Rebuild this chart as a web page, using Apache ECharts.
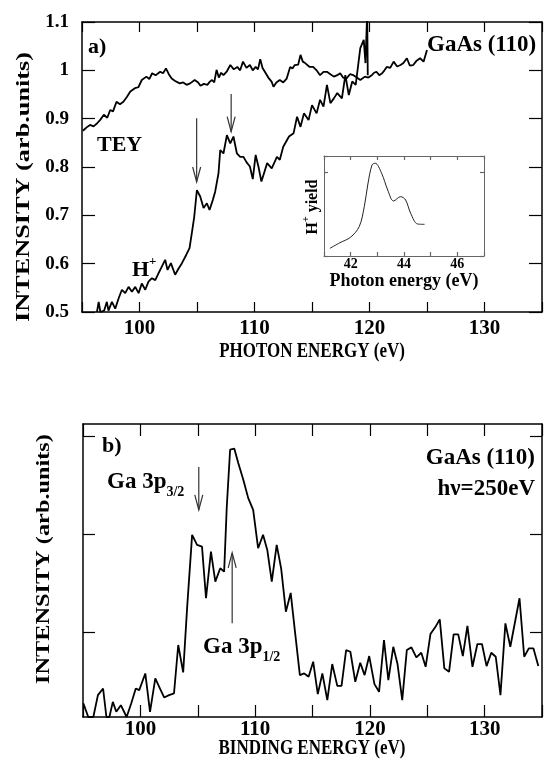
<!DOCTYPE html>
<html>
<head>
    <meta charset="utf-8">
    <title>GaAs (110)</title>
    <script src="https://cdn.jsdelivr.net/npm/echarts@6/dist/echarts.min.js"></script>
    <style>
        html, body { margin: 0; padding: 0; background: #fff; }
    </style>
</head>
<body>
    <div id="main" style="width: 545px;height: 770px;"></div>
    <script type="text/javascript">
// panel a) : photon energy (eV), intensity
var teyData = [
    [95.08,0.875],[95.4,0.882],[95.7,0.887],[96.0,0.884],[96.3,0.890],[96.6,0.898],[96.9,0.908],[97.2,0.902],
    [97.45,0.918],[97.7,0.915],[98.0,0.935],[98.3,0.930],[98.6,0.935],[98.9,0.945],[99.2,0.956],[99.6,0.963],
    [99.9,0.965],[100.2,0.980],[100.6,0.987],[100.85,0.982],[101.1,0.994],[101.4,0.990],[101.8,0.997],[102.05,0.994],
    [102.3,1.004],[102.55,0.992],[102.8,0.983],[103.1,0.978],[103.5,0.973],[103.8,0.975],[104.1,0.970],[104.4,0.973],
    [104.8,0.980],[105.1,0.975],[105.3,0.968],[105.6,0.972],[105.9,0.970],[106.1,0.976],[106.3,0.980],[106.5,0.975],
    [106.7,1.001],[106.9,0.985],[107.1,0.995],[107.3,0.990],[107.6,0.998],[107.9,1.011],[108.2,1.002],[108.5,1.007],
    [108.75,1.000],[109.0,1.018],[109.3,1.005],[109.6,1.011],[109.85,1.000],[110.1,1.007],[110.3,1.002],[110.5,1.023],
    [110.7,1.005],[110.9,0.997],[111.2,0.985],[111.5,0.976],[111.65,0.966],[111.9,0.975],[112.2,0.980],[112.5,0.975],
    [112.8,0.983],[113.1,1.007],[113.3,1.004],[113.5,1.011],[113.8,1.012],[114.0,1.032],[114.2,1.018],[114.4,1.015],
    [114.8,1.007],[115.1,1.007],[115.4,1.000],[115.7,0.990],[116.0,0.997],[116.3,0.997],[116.6,0.992],[116.9,0.987],
    [117.2,0.990],[117.45,0.994],[117.7,0.985],[118.0,0.983],[118.3,0.992],[118.6,0.990],[118.9,0.985],[119.2,0.980],
    [119.6,0.987],[119.9,0.985],[120.2,0.990],[120.4,0.995],[120.6,0.997],[120.85,0.990],[121.1,0.994],[121.3,1.000],
    [121.5,1.007],[121.8,1.005],[122.1,1.018],[122.4,1.008],[122.7,1.011],[122.95,1.015],[123.25,1.025],[123.5,1.010],
    [123.8,1.011],[124.1,1.020],[124.4,1.025],[124.7,1.018],[125.0,1.042]
];
var hplusData = [
    [96.3,0.500],[96.45,0.521],[96.6,0.500],[96.93,0.503],[97.16,0.521],[97.3,0.503],[97.6,0.521],[97.89,0.507],
    [98.18,0.528],[98.47,0.546],[98.76,0.539],[99.05,0.552],[99.34,0.542],[99.63,0.552],[99.92,0.539],[100.2,0.559],
    [100.5,0.546],[100.78,0.563],[101.08,0.570],[101.37,0.566],[101.65,0.580],[101.94,0.594],[102.23,0.608],[102.44,0.587],
    [102.73,0.601],[103.1,0.577],[103.4,0.590],[103.69,0.601],[104.06,0.618],[104.35,0.632],[104.55,0.663],[104.76,0.697],
    [104.99,0.752],[105.28,0.739],[105.57,0.715],[105.86,0.725],[106.09,0.711],[106.38,0.732],[106.58,0.749],[106.87,0.787],
    [107.02,0.835],[107.3,0.828],[107.6,0.866],[107.89,0.849],[108.17,0.863],[108.47,0.828],[108.75,0.821],[109.04,0.821],
    [109.3,0.810],[109.6,0.801],[109.85,0.775],[110.1,0.825],[110.35,0.800],[110.6,0.770],[110.8,0.785],[111.1,0.808],
    [111.5,0.797],[111.95,0.821],[112.2,0.815],[112.5,0.842],[113.0,0.863],[113.4,0.870],[113.7,0.904],[114.0,0.883],
    [114.3,0.911],[114.7,0.897],[115.0,0.928],[115.4,0.911],[115.7,0.939],[116.0,0.925],[116.3,0.970],[116.6,0.932],
    [116.9,0.942],[117.2,0.953],[117.6,0.942],[117.9,0.990],[118.2,0.949],[118.5,0.977],[118.8,0.970],[119.2,1.046],
    [119.5,1.063],[119.65,1.015],[119.8,1.120],[119.85,0.990]
];
// inset: H+ yield vs photon energy (eV)
var insetData = [
    [41.22,0.092],[41.6,0.16],[41.99,0.224],[42.32,0.352],[42.51,0.592],[42.64,0.852],[42.8,1.092],[42.92,1.113],
    [43.16,0.993],[43.39,0.792],[43.61,0.66],[43.87,0.712],[44.06,0.672],[44.25,0.512],[44.51,0.384],[44.77,0.38]
];
// panel b) : binding energy (eV), intensity
var xpsData = [
    [95.03,0.27],[95.46,0.13],[95.9,0.13],[96.3,0.354],[96.75,0.422],[97.04,0.13],[97.3,0.13],[97.6,0.285],
    [97.9,0.183],[98.3,0.251],[98.8,0.13],[99.2,0.269],[99.6,0.422],[99.9,0.405],[100.43,0.576],[100.84,0.183],
    [101.3,0.525],[101.64,0.439],[102.07,0.33],[102.5,0.354],[102.93,0.371],[103.3,0.867],[103.73,0.587],[104.08,1.26],
    [104.51,1.995],[104.94,1.892],[105.37,1.875],[105.72,1.346],[106.15,1.824],[106.53,1.516],[106.96,1.653],[107.3,1.618],
    [107.53,2.285],[107.82,2.867],[108.19,2.877],[108.53,2.73],[108.97,2.559],[109.4,2.371],[109.83,2.251],[110.26,1.858],
    [110.69,1.995],[111.06,1.841],[111.45,1.516],[111.88,1.892],[112.27,1.65],[112.68,1.208],[113.1,1.40],[113.5,0.975],
    [113.9,0.559],[114.28,0.576],[114.66,0.542],[115.06,0.696],[115.46,0.364],[115.86,0.576],[116.29,0.303],[116.72,0.672],
    [117.16,0.449],[117.53,0.449],[117.93,0.815],[118.3,0.798],[118.73,0.49],[119.16,0.685],[119.54,0.559],[119.94,0.754],
    [120.4,0.467],[120.8,0.388],[121.23,0.918],[121.61,0.508],[122.04,0.849],[122.41,0.672],[122.82,0.303],[123.22,0.815],
    [123.62,0.843],[124.05,0.74],[124.48,0.788],[124.86,0.644],[125.28,0.979],[125.69,1.048],[126.09,1.13],[126.49,0.628],
    [126.9,0.593],[127.3,0.976],[127.7,0.976],[128.1,0.754],[128.5,1.062],[128.94,0.644],[129.37,0.877],[129.77,0.877],
    [130.17,0.651],[130.58,0.788],[130.97,0.747],[131.38,0.354],[131.81,1.089],[132.24,0.849],[133.04,1.346],[133.45,0.747],
    [133.85,0.833],[134.25,0.833],[134.68,0.651]
];
// arrows: [x, y from, y to (head)]
var arrowsA = [[104.97,0.901,0.769],[107.97,0.951,0.873]];
var arrowsB = [[105.09,2.69,2.25],[108.0,1.09,1.81]];
var energyTicks = [100,110,120,130];
var intensityTicks = [0.5,0.6,0.7,0.8,0.9,1,1.1];
var insetTicks = [42,44,46];
var xpsTicks = [1,2,3];

var FONT = "'Liberation Serif', 'Times New Roman', serif";
var myChart = echarts.init(document.getElementById('main'));

function frameX(grid, pos, min, max, interval, labels, tickLen, color, labelSize, margin, lineW) {
    return {
        type: 'value', gridIndex: grid, position: pos, min: min, max: max, interval: interval,
        axisLine: { onZero: false, lineStyle: { color: color, width: lineW || 1.5 } },
        axisTick: { inside: true, length: tickLen, lineStyle: { color: color, width: 1.2 } },
        axisLabel: labels ? {
            show: true, margin: margin, color: '#000', fontFamily: FONT, fontWeight: 'bold', fontSize: labelSize,
            formatter: function (v) { return labels.indexOf(v) >= 0 ? String(v) : ''; }
        } : { show: false },
        splitLine: { show: false }
    };
}
function frameY(grid, pos, min, max, interval, tickLen, color, lineW) {
    return {
        type: 'value', gridIndex: grid, position: pos, min: min, max: max, interval: interval,
        axisLine: { onZero: false, lineStyle: { color: color, width: lineW || 1.5 } },
        axisTick: { inside: true, length: tickLen, lineStyle: { color: color, width: 1.2 } },
        axisLabel: { show: false },
        splitLine: { show: false }
    };
}

function arrowItem(params, api) {
    var p0 = api.coord([api.value(0), api.value(1)]);
    var p1 = api.coord([api.value(0), api.value(2)]);
    var dir = p1[1] > p0[1] ? 1 : -1;
    return {
        type: 'group',
        children: [
            { type: 'line', shape: { x1: p0[0], y1: p0[1], x2: p1[0], y2: p1[1] },
              style: { stroke: '#333', lineWidth: 1.2 } },
            { type: 'polyline', shape: { points: [[p1[0] - 4, p1[1] - dir * 15], [p1[0], p1[1]], [p1[0] + 4, p1[1] - dir * 15]] },
              style: { stroke: '#333', fill: null, lineWidth: 1.2 } }
        ]
    };
}

function label(text, x, y, size, opts) {
    opts = opts || {};
    return {
        type: 'text', x: x, y: y, rotation: opts.rotation || 0,
        scaleX: opts.scaleX || 1, scaleY: opts.scaleY || 1, z: 100,
        style: {
            text: text, fill: '#000', font: 'bold ' + size + 'px ' + FONT,
            textAlign: opts.align || 'left', textVerticalAlign: 'middle',
            rich: opts.rich
        }
    };
}
var supRich = function (size) {
    return {
        n: { fontFamily: FONT, fontWeight: 'bold', fontSize: size, lineHeight: size + 4, verticalAlign: 'bottom' },
        sup: { fontFamily: FONT, fontWeight: 'bold', fontSize: Math.round(size * 0.6), verticalAlign: 'top' },
        sub: { fontFamily: FONT, fontWeight: 'bold', fontSize: Math.round(size * 0.62), verticalAlign: 'bottom', padding: [0, 0, -6, 0] }
    };
};

myChart.setOption({
    animation: false,
    backgroundColor: '#fff',
    grid: [
        { left: 82, top: 22, width: 460, height: 290 },
        { left: 83, top: 424, width: 463, height: 293 },
        { left: 324, top: 156, width: 160, height: 100 }
    ],
    xAxis: [
        frameX(0, 'bottom', 95, 135, 5, energyTicks, 10, '#000', 21, 6),
        frameX(0, 'top', 95, 135, 5, null, 10, '#000'),
        frameX(1, 'bottom', 95, 135, 5, energyTicks, 12, '#000', 21, 2),
        frameX(1, 'top', 95, 135, 5, null, 12, '#000'),
        frameX(2, 'bottom', 41, 47, 1, insetTicks, 4, '#666', 14, 1, 1),
        frameX(2, 'top', 41, 47, 1, null, 4, '#666', 0, 0, 1)
    ],
    yAxis: [
        {
            type: 'value', gridIndex: 0, position: 'left', min: 0.5, max: 1.1, interval: 0.1,
            axisLine: { onZero: false, lineStyle: { color: '#000', width: 1.5 } },
            axisTick: { inside: true, length: 13, lineStyle: { color: '#000', width: 1.2 } },
            axisLabel: {
                margin: 13, color: '#000', fontFamily: FONT, fontWeight: 'bold', fontSize: 19,
                formatter: function (v) {
                    var r = Math.round(v * 10) / 10;
                    return intensityTicks.indexOf(r) >= 0 ? String(r) : '';
                }
            },
            splitLine: { show: false }
        },
        frameY(0, 'right', 0.5, 1.1, 0.1, 13, '#000'),
        {
            type: 'value', gridIndex: 1, position: 'left', min: 0.13, max: 3.13,
            axisLine: { onZero: false, lineStyle: { color: '#000', width: 1.5 } },
            axisTick: { inside: true, length: 12, customValues: xpsTicks, lineStyle: { color: '#000', width: 1.2 } },
            axisLabel: { show: false },
            splitLine: { show: false }
        },
        {
            type: 'value', gridIndex: 1, position: 'right', min: 0.13, max: 3.13,
            axisLine: { onZero: false, lineStyle: { color: '#000', width: 1.5 } },
            axisTick: { inside: true, length: 12, customValues: xpsTicks, lineStyle: { color: '#000', width: 1.2 } },
            axisLabel: { show: false },
            splitLine: { show: false }
        },
        frameY(2, 'left', 0, 1.2, 1, 4, '#666', 1),
        frameY(2, 'right', 0, 1.2, 1, 4, '#666', 1)
    ],
    series: [
        { name: 'TEY', type: 'line', xAxisIndex: 0, yAxisIndex: 0, data: teyData, showSymbol: false,
          lineStyle: { color: '#000', width: 1.8 } },
        { name: 'H+', type: 'line', xAxisIndex: 0, yAxisIndex: 0, data: hplusData, showSymbol: false,
          lineStyle: { color: '#000', width: 1.8 } },
        { name: 'H+ yield', type: 'line', xAxisIndex: 4, yAxisIndex: 4, data: insetData, showSymbol: false,
          smooth: 0.35, lineStyle: { color: '#222', width: 1 } },
        { name: 'XPS', type: 'line', xAxisIndex: 2, yAxisIndex: 2, data: xpsData, showSymbol: false,
          lineStyle: { color: '#000', width: 1.8 } },
        { type: 'custom', xAxisIndex: 0, yAxisIndex: 0, data: arrowsA, renderItem: arrowItem, silent: true },
        { type: 'custom', xAxisIndex: 2, yAxisIndex: 2, data: arrowsB, renderItem: arrowItem, silent: true }
    ],
    graphic: [
        label('a)', 88, 47, 22),
        label('TEY', 97, 145, 22),
        label('{n|H}{sup|+}', 132, 268, 22, { rich: supRich(22) }),
        label('GaAs (110)', 427, 45, 23),
        label('PHOTON ENERGY (eV)', 312, 352, 17, { align: 'center', scaleY: 1.25 }),
        label('INTENSITY (arb.units)', 24, 187, 18, { align: 'center', rotation: Math.PI / 2, scaleX: 1.46 }),
        label('Photon energy (eV)', 404, 281, 18, { align: 'center' }),
        label('{n|H}{sup|+}{n| yield}', 311, 207, 16, { align: 'center', rotation: Math.PI / 2, rich: supRich(16) }),
        label('b)', 102, 446, 22),
        label('{n|Ga 3p}{sub|3/2}', 107, 480, 23, { rich: supRich(23) }),
        label('{n|Ga 3p}{sub|1/2}', 203, 645, 23, { rich: supRich(23) }),
        label('GaAs (110)', 535, 458, 23, { align: 'right' }),
        label('h\u03bd=250eV', 535, 489, 23, { align: 'right' }),
        label('BINDING ENERGY (eV)', 312, 749, 17, { align: 'center', scaleY: 1.25 }),
        label('INTENSITY (arb.units)', 44, 559, 18, { align: 'center', rotation: Math.PI / 2, scaleX: 1.35 })
    ]
});
    </script>
</body>
</html>
